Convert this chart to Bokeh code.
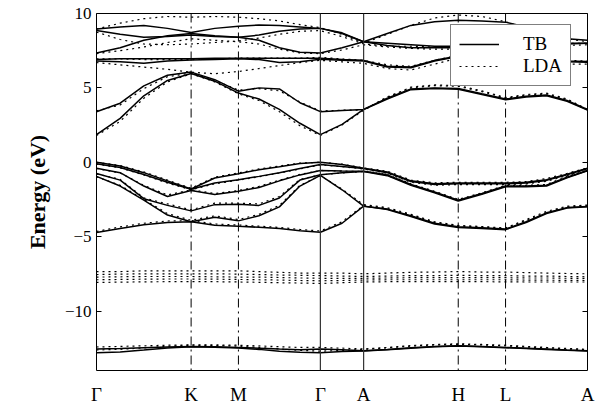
from bokeh.plotting import figure
from bokeh.models import FixedTicker, LinearAxis, Span, Range1d, Legend, LegendItem
from bokeh.embed import file_html
from bokeh.resources import INLINE

# ---- k path (units: |Gamma-K| = 1) ----
k = [0.0, 0.25, 0.5, 0.75, 1.0, 1.25, 1.5, 1.717, 1.933, 2.15, 2.366, 2.595,
     2.823, 3.073, 3.323, 3.573, 3.823, 4.073, 4.323, 4.540, 4.756, 4.973, 5.189]
k_ticks = [0.0, 1.0, 1.5, 2.366, 2.823, 3.823, 4.323, 5.189]
k_labels = ["Γ", "K", "M", "Γ", "A", "H", "L", "A"]
solid_marks = [2.366, 2.823]          # Gamma and A separators (solid)
dashdot_marks = [1.0, 1.5, 3.823, 4.323]  # K, M, H, L (dash-dot)
y_ticks = [-10, -5, 0, 5, 10]

# ---- TB bands (solid) ----
tb_cb1 = [1.86, 2.95, 4.47, 5.5, 5.97, 5.45, 4.65, 4.25, 3.55, 2.62, 1.86, 2.55, 3.55,
          4.25, 4.88, 4.95, 4.91, 4.55, 4.2, 4.38, 4.47, 4.1, 3.5]
tb_cb2 = [3.40, 3.97, 5.13, 5.85, 6.06, 5.55, 4.78, 5.0, 4.93, 4.0, 3.4, 3.48, 3.55,
          4.3, 4.93, 5.0, 4.96, 4.6, 4.25, 4.43, 4.52, 4.15, 3.55]
tb_ua = [8.95, 9.1, 9.2, 9.0, 8.72, 9.0, 9.15, 9.22, 9.2, 9.1, 9.0, 8.7, 8.1,
         8.65, 9.2, 9.45, 9.55, 9.5, 9.42, 9.1, 8.7, 8.3, 8.2]
tb_ub = [8.85, 8.6, 8.4, 8.45, 8.55, 8.45, 8.4, 8.55, 8.8, 8.95, 9.0, 8.65, 8.1,
         8.0, 7.9, 7.8, 7.8, 7.85, 7.9, 7.95, 8.0, 8.0, 8.0]
tb_uc = [7.35, 7.7, 8.2, 8.5, 8.65, 8.5, 8.4, 8.2, 7.7, 7.4, 7.35, 7.7, 8.1,
         7.85, 7.7, 7.7, 7.7, 7.75, 7.8, 7.85, 7.9, 7.95, 8.0]
tb_ud = [6.9, 6.95, 6.95, 6.95, 6.95, 7.0, 7.0, 7.0, 7.0, 7.0, 7.0, 6.9, 6.85,
         6.45, 6.4, 6.85, 7.15, 7.1, 7.0, 6.95, 6.85, 6.8, 6.78]
tb_ue = [6.8, 6.75, 6.65, 6.8, 6.88, 6.9, 6.95, 6.9, 6.7, 6.75, 6.92, 6.85, 6.8,
         6.4, 6.35, 6.8, 7.1, 7.05, 6.95, 6.9, 6.8, 6.75, 6.72]
tb_v1 = [0.0, -0.25, -0.7, -1.25, -1.8, -1.06, -0.78, -0.5, -0.3, -0.08, 0.0, -0.15, -0.4,
         -0.65, -1.25, -1.45, -1.4, -1.4, -1.4, -1.35, -1.17, -0.8, -0.4]
tb_v2 = [-0.1, -0.35, -0.82, -1.35, -1.82, -1.39, -1.17, -0.95, -0.7, -0.42, -0.15, -0.28, -0.42,
         -0.7, -1.3, -1.5, -1.45, -1.45, -1.45, -1.4, -1.22, -0.85, -0.42]
tb_v3 = [-0.4, -0.7, -1.6, -2.3, -1.9, -2.17, -1.95, -1.7, -1.25, -0.85, -0.55, -0.58, -0.6,
         -0.85, -1.5, -2.0, -2.55, -2.1, -1.6, -1.6, -1.55, -1.0, -0.55]
tb_v4 = [-0.75, -1.2, -2.45, -2.9, -3.27, -2.85, -2.83, -2.9, -2.4, -1.2, -0.84, -0.7, -0.62,
         -0.9, -1.55, -2.05, -2.6, -2.15, -1.65, -1.65, -1.6, -1.05, -0.57]
tb_v5 = [-0.95, -1.6, -2.55, -3.55, -4.0, -3.7, -3.94, -3.6, -3.0, -1.6, -0.88, -1.85, -2.95,
         -3.15, -3.6, -4.1, -4.33, -4.4, -4.49, -4.0, -3.4, -3.05, -2.98]
tb_v6 = [-4.72, -4.45, -4.2, -4.05, -4.0, -4.23, -4.31, -4.37, -4.45, -4.6, -4.71, -4.1, -2.95,
         -3.18, -3.65, -4.15, -4.38, -4.45, -4.53, -4.05, -3.45, -3.08, -3.0]
tb_d1 = [-12.55, -12.52, -12.47, -12.42, -12.38, -12.4, -12.45, -12.5, -12.56, -12.6, -12.55,
         -12.6, -12.67, -12.58, -12.47, -12.38, -12.34, -12.38, -12.45, -12.5, -12.56, -12.62, -12.67]
tb_d2 = [-12.8, -12.75, -12.62, -12.48, -12.4, -12.43, -12.48, -12.58, -12.7, -12.77, -12.8,
         -12.73, -12.69, -12.6, -12.5, -12.4, -12.36, -12.4, -12.47, -12.52, -12.58, -12.64, -12.69]

# ---- LDA bands (dotted) ----
lda_cb1 = [1.8, 2.75, 4.3, 5.4, 5.95, 5.4, 4.6, 4.15, 3.4, 2.45, 1.8, 2.5, 3.5,
           4.4, 5.0, 5.15, 5.1, 4.75, 4.3, 4.5, 4.6, 4.2, 3.5]
lda_cb2 = [3.45, 3.85, 4.95, 5.75, 6.0, 5.5, 4.85, 4.95, 4.8, 4.05, 3.45, 3.5, 3.5,
           4.35, 5.05, 5.2, 5.15, 4.8, 4.35, 4.55, 4.65, 4.25, 3.55]
lda_ua = [8.95, 9.35, 9.65, 9.8, 9.75, 9.8, 9.75, 9.65, 9.5, 9.25, 9.05, 8.6, 8.0,
          8.6, 9.2, 9.7, 9.9, 9.8, 9.45, 9.0, 8.6, 8.3, 8.1]
lda_ub = [8.75, 8.25, 7.95, 7.9, 7.95, 8.05, 8.15, 8.35, 8.6, 8.8, 8.85, 8.45, 7.95,
          7.8, 7.8, 7.75, 7.75, 7.8, 7.85, 7.9, 7.95, 8.0, 8.0]
lda_uc = [7.3, 7.5, 7.75, 8.05, 8.3, 8.2, 8.1, 7.95, 7.6, 7.35, 7.3, 7.55, 7.9,
          7.75, 7.65, 7.6, 7.6, 7.65, 7.7, 7.75, 7.8, 7.85, 7.9]
lda_ud = [6.7, 6.55, 6.4, 6.25, 6.05, 5.95, 6.1, 6.3, 6.5, 6.7, 6.85, 6.75, 6.65,
          6.3, 6.2, 6.6, 7.0, 6.95, 6.85, 6.75, 6.65, 6.6, 6.6]
lda_ue = [6.95, 6.95, 6.9, 6.9, 6.9, 6.95, 7.0, 7.0, 7.0, 7.0, 7.05, 6.95, 6.85,
          6.55, 6.45, 6.85, 7.2, 7.15, 7.05, 7.0, 6.9, 6.85, 6.8]
lda_v1 = [0.0, -0.22, -0.65, -1.2, -1.75, -1.0, -0.72, -0.45, -0.25, -0.06, 0.0, -0.13, -0.38,
          -0.6, -1.2, -1.38, -1.35, -1.35, -1.35, -1.3, -1.1, -0.75, -0.38]
lda_v2 = [-0.12, -0.38, -0.85, -1.4, -1.85, -1.45, -1.2, -0.98, -0.72, -0.45, -0.18, -0.3, -0.45,
          -0.75, -1.35, -1.55, -1.5, -1.5, -1.5, -1.45, -1.28, -0.9, -0.45]
lda_v3 = [-0.42, -0.72, -1.55, -2.2, -1.85, -2.1, -1.9, -1.62, -1.2, -0.82, -0.55, -0.6, -0.62,
          -0.82, -1.45, -1.95, -2.5, -2.05, -1.55, -1.55, -1.5, -0.95, -0.52]
lda_v4 = [-0.78, -1.15, -2.4, -2.8, -3.2, -2.75, -2.75, -2.8, -2.3, -1.15, -0.85, -0.72, -0.62,
          -0.88, -1.52, -2.02, -2.55, -2.12, -1.62, -1.62, -1.55, -1.02, -0.56]
lda_v5 = [-0.98, -1.55, -2.5, -3.45, -3.9, -3.6, -3.85, -3.5, -2.9, -1.55, -0.9, -1.8, -2.85,
          -3.05, -3.5, -4.0, -4.25, -4.32, -4.42, -3.85, -3.3, -2.95, -2.88]
lda_v6 = [-4.65, -4.35, -4.1, -3.95, -3.92, -4.15, -4.22, -4.3, -4.38, -4.52, -4.62, -4.0, -2.9,
          -3.1, -3.55, -4.05, -4.28, -4.36, -4.45, -3.9, -3.38, -3.0, -2.92]
lda_dd1 = [-7.35, -7.35, -7.3, -7.3, -7.3, -7.3, -7.3, -7.35, -7.4, -7.45, -7.45, -7.45, -7.5,
           -7.45, -7.4, -7.38, -7.35, -7.38, -7.38, -7.42, -7.45, -7.48, -7.5]
lda_dd2 = [-7.55, -7.52, -7.5, -7.5, -7.5, -7.5, -7.52, -7.55, -7.58, -7.6, -7.62, -7.65, -7.68,
           -7.65, -7.62, -7.62, -7.6, -7.62, -7.62, -7.65, -7.65, -7.68, -7.7]
lda_dd3 = [-7.72, -7.7, -7.68, -7.68, -7.68, -7.7, -7.72, -7.72, -7.75, -7.78, -7.8, -7.8, -7.8,
           -7.78, -7.76, -7.75, -7.75, -7.75, -7.76, -7.78, -7.78, -7.8, -7.8]
lda_dd4 = [-7.9, -7.88, -7.86, -7.85, -7.85, -7.86, -7.88, -7.9, -7.92, -7.95, -7.97, -7.95, -7.92,
           -7.9, -7.9, -7.9, -7.9, -7.9, -7.9, -7.92, -7.93, -7.94, -7.95]
lda_dd5 = [-8.08, -8.06, -8.04, -8.03, -8.02, -8.03, -8.05, -8.07, -8.1, -8.12, -8.15, -8.1, -8.05,
           -8.03, -8.03, -8.03, -8.02, -8.03, -8.04, -8.05, -8.05, -8.05, -8.05]
lda_d1 = [-12.42, -12.38, -12.34, -12.3, -12.28, -12.28, -12.3, -12.35, -12.4, -12.45, -12.45,
          -12.5, -12.55, -12.45, -12.32, -12.25, -12.2, -12.25, -12.3, -12.38, -12.45, -12.52, -12.58]
lda_d2 = [-12.62, -12.58, -12.48, -12.38, -12.3, -12.32, -12.36, -12.45, -12.55, -12.65, -12.7,
          -12.65, -12.58, -12.48, -12.36, -12.28, -12.24, -12.28, -12.34, -12.42, -12.48, -12.55, -12.6]

tb_bands = [tb_cb1, tb_cb2, tb_ua, tb_ub, tb_uc, tb_ud, tb_ue,
            tb_v1, tb_v2, tb_v3, tb_v4, tb_v5, tb_v6, tb_d1, tb_d2]
lda_bands = [lda_cb1, lda_cb2, lda_ua, lda_ub, lda_uc, lda_ud, lda_ue,
             lda_v1, lda_v2, lda_v3, lda_v4, lda_v5, lda_v6,
             lda_dd1, lda_dd2, lda_dd3, lda_dd4, lda_dd5, lda_d1, lda_d2]

FONT = "Liberation Serif"

p = figure(width=602, height=407, output_backend="svg", toolbar_location=None,
           x_range=Range1d(k_ticks[0], k_ticks[-1]), y_range=Range1d(-14, 10),
           min_border_left=96, min_border_right=15, min_border_top=13, min_border_bottom=31)
p.xgrid.visible = False
p.ygrid.visible = False
p.outline_line_color = "black"
p.outline_line_width = 1
p.background_fill_color = "white"
p.border_fill_color = "white"

lda_r = []
for b in lda_bands:
    lda_r.append(p.line(k, b, line_color="black", line_width=1.2, line_dash="2 4"))
tb_r = []
for b in tb_bands:
    tb_r.append(p.line(k, b, line_color="black", line_width=1.5))

for xm in dashdot_marks:
    p.add_layout(Span(location=xm, dimension="height", line_color="black",
                      line_width=1, line_dash="9 4 2 4"))
for xm in solid_marks:
    p.add_layout(Span(location=xm, dimension="height", line_color="#333333", line_width=1.2))

# x axis
xa = p.xaxis[0]
xa.ticker = FixedTicker(ticks=k_ticks)
xa.major_label_overrides = {t: lab for t, lab in zip(k_ticks, k_labels)}
xa.major_tick_line_color = None
xa.minor_tick_line_color = None
xa.axis_line_color = None
xa.major_label_text_font = FONT
xa.major_label_text_font_size = "19px"
xa.major_label_text_color = "black"
xa.major_label_standoff = 7

# y axis
ya = p.yaxis[0]
ya.ticker = FixedTicker(ticks=y_ticks)
ya.major_label_overrides = {t: (str(t).replace("-", "\u2212")) for t in y_ticks}
ya.major_tick_in = 5
ya.major_tick_out = 0
ya.minor_tick_line_color = None
ya.axis_line_color = None
ya.major_label_text_font = FONT
ya.major_label_text_font_size = "17px"
ya.major_label_text_color = "black"
ya.major_label_standoff = 5
ya.axis_label = "Energy (eV)"
ya.axis_label_text_font = FONT
ya.axis_label_text_font_style = "bold"
ya.axis_label_text_font_size = "22px"
ya.axis_label_text_color = "black"
ya.axis_label_standoff = 12

ra = LinearAxis(ticker=FixedTicker(ticks=y_ticks))
ra.major_tick_in = 5
ra.major_tick_out = 0
ra.minor_tick_line_color = None
ra.axis_line_color = None
ra.major_label_text_font_size = "0px"
ra.major_label_text_color = None
p.add_layout(ra, "right")

legend = Legend(items=[LegendItem(label="TB", renderers=[tb_r[0]]),
                       LegendItem(label="LDA", renderers=[lda_r[0]])],
                location=(354, 284), orientation="vertical")
legend.border_line_color = "black"
legend.border_line_width = 1
legend.background_fill_color = "white"
legend.background_fill_alpha = 1
legend.padding = 8
legend.spacing = 0
legend.margin = 0
legend.glyph_width = 40
legend.glyph_height = 18
legend.label_height = 18
legend.label_standoff = 24
legend.label_text_font = FONT
legend.label_text_font_size = "19px"
legend.label_text_color = "black"
p.add_layout(legend)

open("out.html", "w").write(file_html(p, INLINE))
